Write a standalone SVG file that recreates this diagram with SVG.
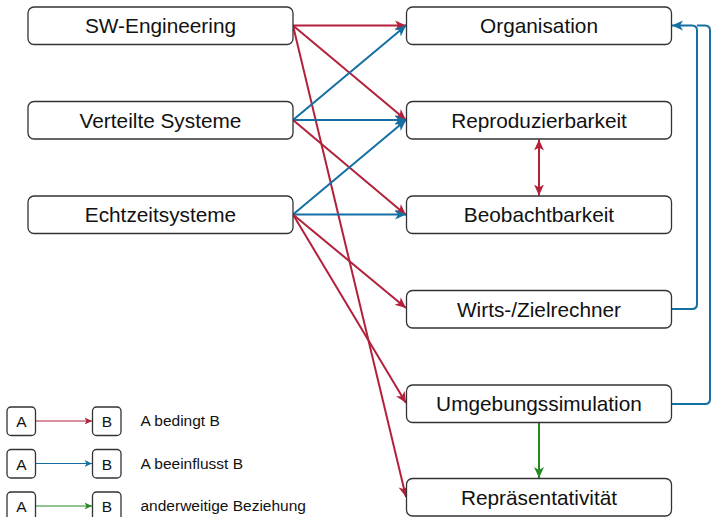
<svg xmlns="http://www.w3.org/2000/svg" width="711" height="517" viewBox="0 0 711 517">
<style>
.box{fill:#fff;stroke:#333;stroke-width:1.3}
.t{font-family:"Liberation Sans",Arial,sans-serif;font-size:20.8px;fill:#111;text-anchor:middle}
.lt{font-family:"Liberation Sans",Arial,sans-serif;font-size:15.5px;fill:#111}
.lc{font-family:"Liberation Sans",Arial,sans-serif;font-size:15.5px;fill:#111;text-anchor:middle}
.r{stroke:#B3203A;stroke-width:2;fill:none;marker-end:url(#ar)}
.b{stroke:#146FA3;stroke-width:2;fill:none;marker-end:url(#ab)}
.g{stroke:#268A22;stroke-width:2;fill:none;marker-end:url(#ag)}
.rl{stroke:#B3203A;stroke-width:1.2;fill:none;marker-end:url(#sr)}
.bl{stroke:#146FA3;stroke-width:1.2;fill:none;marker-end:url(#sb)}
.gl{stroke:#268A22;stroke-width:1.2;fill:none;marker-end:url(#sg)}
</style>
<defs>
<marker id="ar" markerUnits="userSpaceOnUse" viewBox="0 0 12 12" markerWidth="12" markerHeight="12" refX="11" refY="6" orient="auto-start-reverse"><path d="M0,1 L11,6 L0,11 L3,6 z" fill="#B3203A"/></marker>
<marker id="ab" markerUnits="userSpaceOnUse" viewBox="0 0 12 12" markerWidth="12" markerHeight="12" refX="11" refY="6" orient="auto"><path d="M0,1 L11,6 L0,11 L3,6 z" fill="#146FA3"/></marker>
<marker id="ag" markerUnits="userSpaceOnUse" viewBox="0 0 12 12" markerWidth="12" markerHeight="12" refX="11" refY="6" orient="auto"><path d="M0,1 L11,6 L0,11 L3,6 z" fill="#268A22"/></marker>
<marker id="sr" markerUnits="userSpaceOnUse" viewBox="0 0 8 8" markerWidth="8" markerHeight="8" refX="7.5" refY="4" orient="auto"><path d="M0,0.5 L7.5,4 L0,7.5 L2,4 z" fill="#B3203A"/></marker>
<marker id="sb" markerUnits="userSpaceOnUse" viewBox="0 0 8 8" markerWidth="8" markerHeight="8" refX="7.5" refY="4" orient="auto"><path d="M0,0.5 L7.5,4 L0,7.5 L2,4 z" fill="#146FA3"/></marker>
<marker id="sg" markerUnits="userSpaceOnUse" viewBox="0 0 8 8" markerWidth="8" markerHeight="8" refX="7.5" refY="4" orient="auto"><path d="M0,0.5 L7.5,4 L0,7.5 L2,4 z" fill="#268A22"/></marker>
</defs>
<rect width="711" height="517" fill="#fff"/>

<g id="connectors">
<line class="r" x1="293" y1="25.5" x2="406" y2="25.5"/>
<line class="r" x1="293" y1="25.5" x2="406" y2="120"/>
<line class="r" x1="293" y1="25.5" x2="406" y2="497"/>
<line class="b" x1="293" y1="120" x2="406" y2="25.5"/>
<line class="b" x1="293" y1="120" x2="406" y2="120"/>
<line class="r" x1="293" y1="120" x2="406" y2="215"/>
<line class="b" x1="293" y1="214.5" x2="406" y2="120"/>
<line class="b" x1="293" y1="214.5" x2="406" y2="214.5"/>
<line class="r" x1="293" y1="214.5" x2="406" y2="308"/>
<line class="r" x1="293" y1="214.5" x2="406" y2="403"/>
<line class="r" x1="539" y1="139.5" x2="539" y2="195.5" marker-start="url(#ar)"/>
<line class="g" x1="539" y1="423" x2="539" y2="478"/>
<path class="b" d="M671,309 H692 Q697,309 697,304 V30.5 Q697,25.5 692,25.5 H672"/>
<path d="M671,404 H705 Q710,404 710,399 V30.5 Q710,25.5 705,25.5 H697" stroke="#146FA3" stroke-width="2" fill="none"/>
<line class="rl" x1="36" y1="421" x2="92" y2="421"/>
<line class="bl" x1="36" y1="463.5" x2="92" y2="463.5"/>
<line class="gl" x1="36" y1="506" x2="92" y2="506"/>
</g>

<g id="n-sw"><rect class="box" x="28" y="7" width="265" height="37.5" rx="6"/><text class="t" x="160.5" y="33">SW-Engineering</text></g>
<g id="n-vs"><rect class="box" x="28" y="101.5" width="265" height="37.5" rx="6"/><text class="t" x="160.5" y="127.5">Verteilte Systeme</text></g>
<g id="n-ez"><rect class="box" x="28" y="196" width="265" height="37.5" rx="6"/><text class="t" x="160.5" y="222">Echtzeitsysteme</text></g>

<g id="n-org"><rect class="box" x="406.5" y="7" width="265" height="37.5" rx="6"/><text class="t" x="539" y="33">Organisation</text></g>
<g id="n-rep"><rect class="box" x="406.5" y="101.5" width="265" height="37.5" rx="6"/><text class="t" x="539" y="127.5">Reproduzierbarkeit</text></g>
<g id="n-beo"><rect class="box" x="406.5" y="196" width="265" height="37.5" rx="6"/><text class="t" x="539" y="222">Beobachtbarkeit</text></g>
<g id="n-wz"><rect class="box" x="406.5" y="290.5" width="265" height="37.5" rx="6"/><text class="t" x="539" y="316.5">Wirts-/Zielrechner</text></g>
<g id="n-ums"><rect class="box" x="406.5" y="385" width="265" height="37.5" rx="6"/><text class="t" x="539" y="411">Umgebungssimulation</text></g>
<g id="n-rpr"><rect class="box" x="406.5" y="478.5" width="265" height="37.5" rx="6"/><text class="t" x="539" y="505">Repräsentativität</text></g>

<g id="legend-1"><rect class="box" x="7" y="407" width="28.5" height="28.5" rx="4"/><text class="lc" x="21.3" y="427">A</text><rect class="box" x="92.5" y="407" width="28.5" height="28.5" rx="4"/><text class="lc" x="106.8" y="427">B</text><text class="lt" x="140.5" y="426">A bedingt B</text></g>
<g id="legend-2"><rect class="box" x="7" y="449.5" width="28.5" height="28.5" rx="4"/><text class="lc" x="21.3" y="469.5">A</text><rect class="box" x="92.5" y="449.5" width="28.5" height="28.5" rx="4"/><text class="lc" x="106.8" y="469.5">B</text><text class="lt" x="140.5" y="468.5">A beeinflusst B</text></g>
<g id="legend-3"><rect class="box" x="7" y="492" width="28.5" height="28.5" rx="4"/><text class="lc" x="21.3" y="512">A</text><rect class="box" x="92.5" y="492" width="28.5" height="28.5" rx="4"/><text class="lc" x="106.8" y="512">B</text><text class="lt" x="140.5" y="511">anderweitige Beziehung</text></g>
</svg>
